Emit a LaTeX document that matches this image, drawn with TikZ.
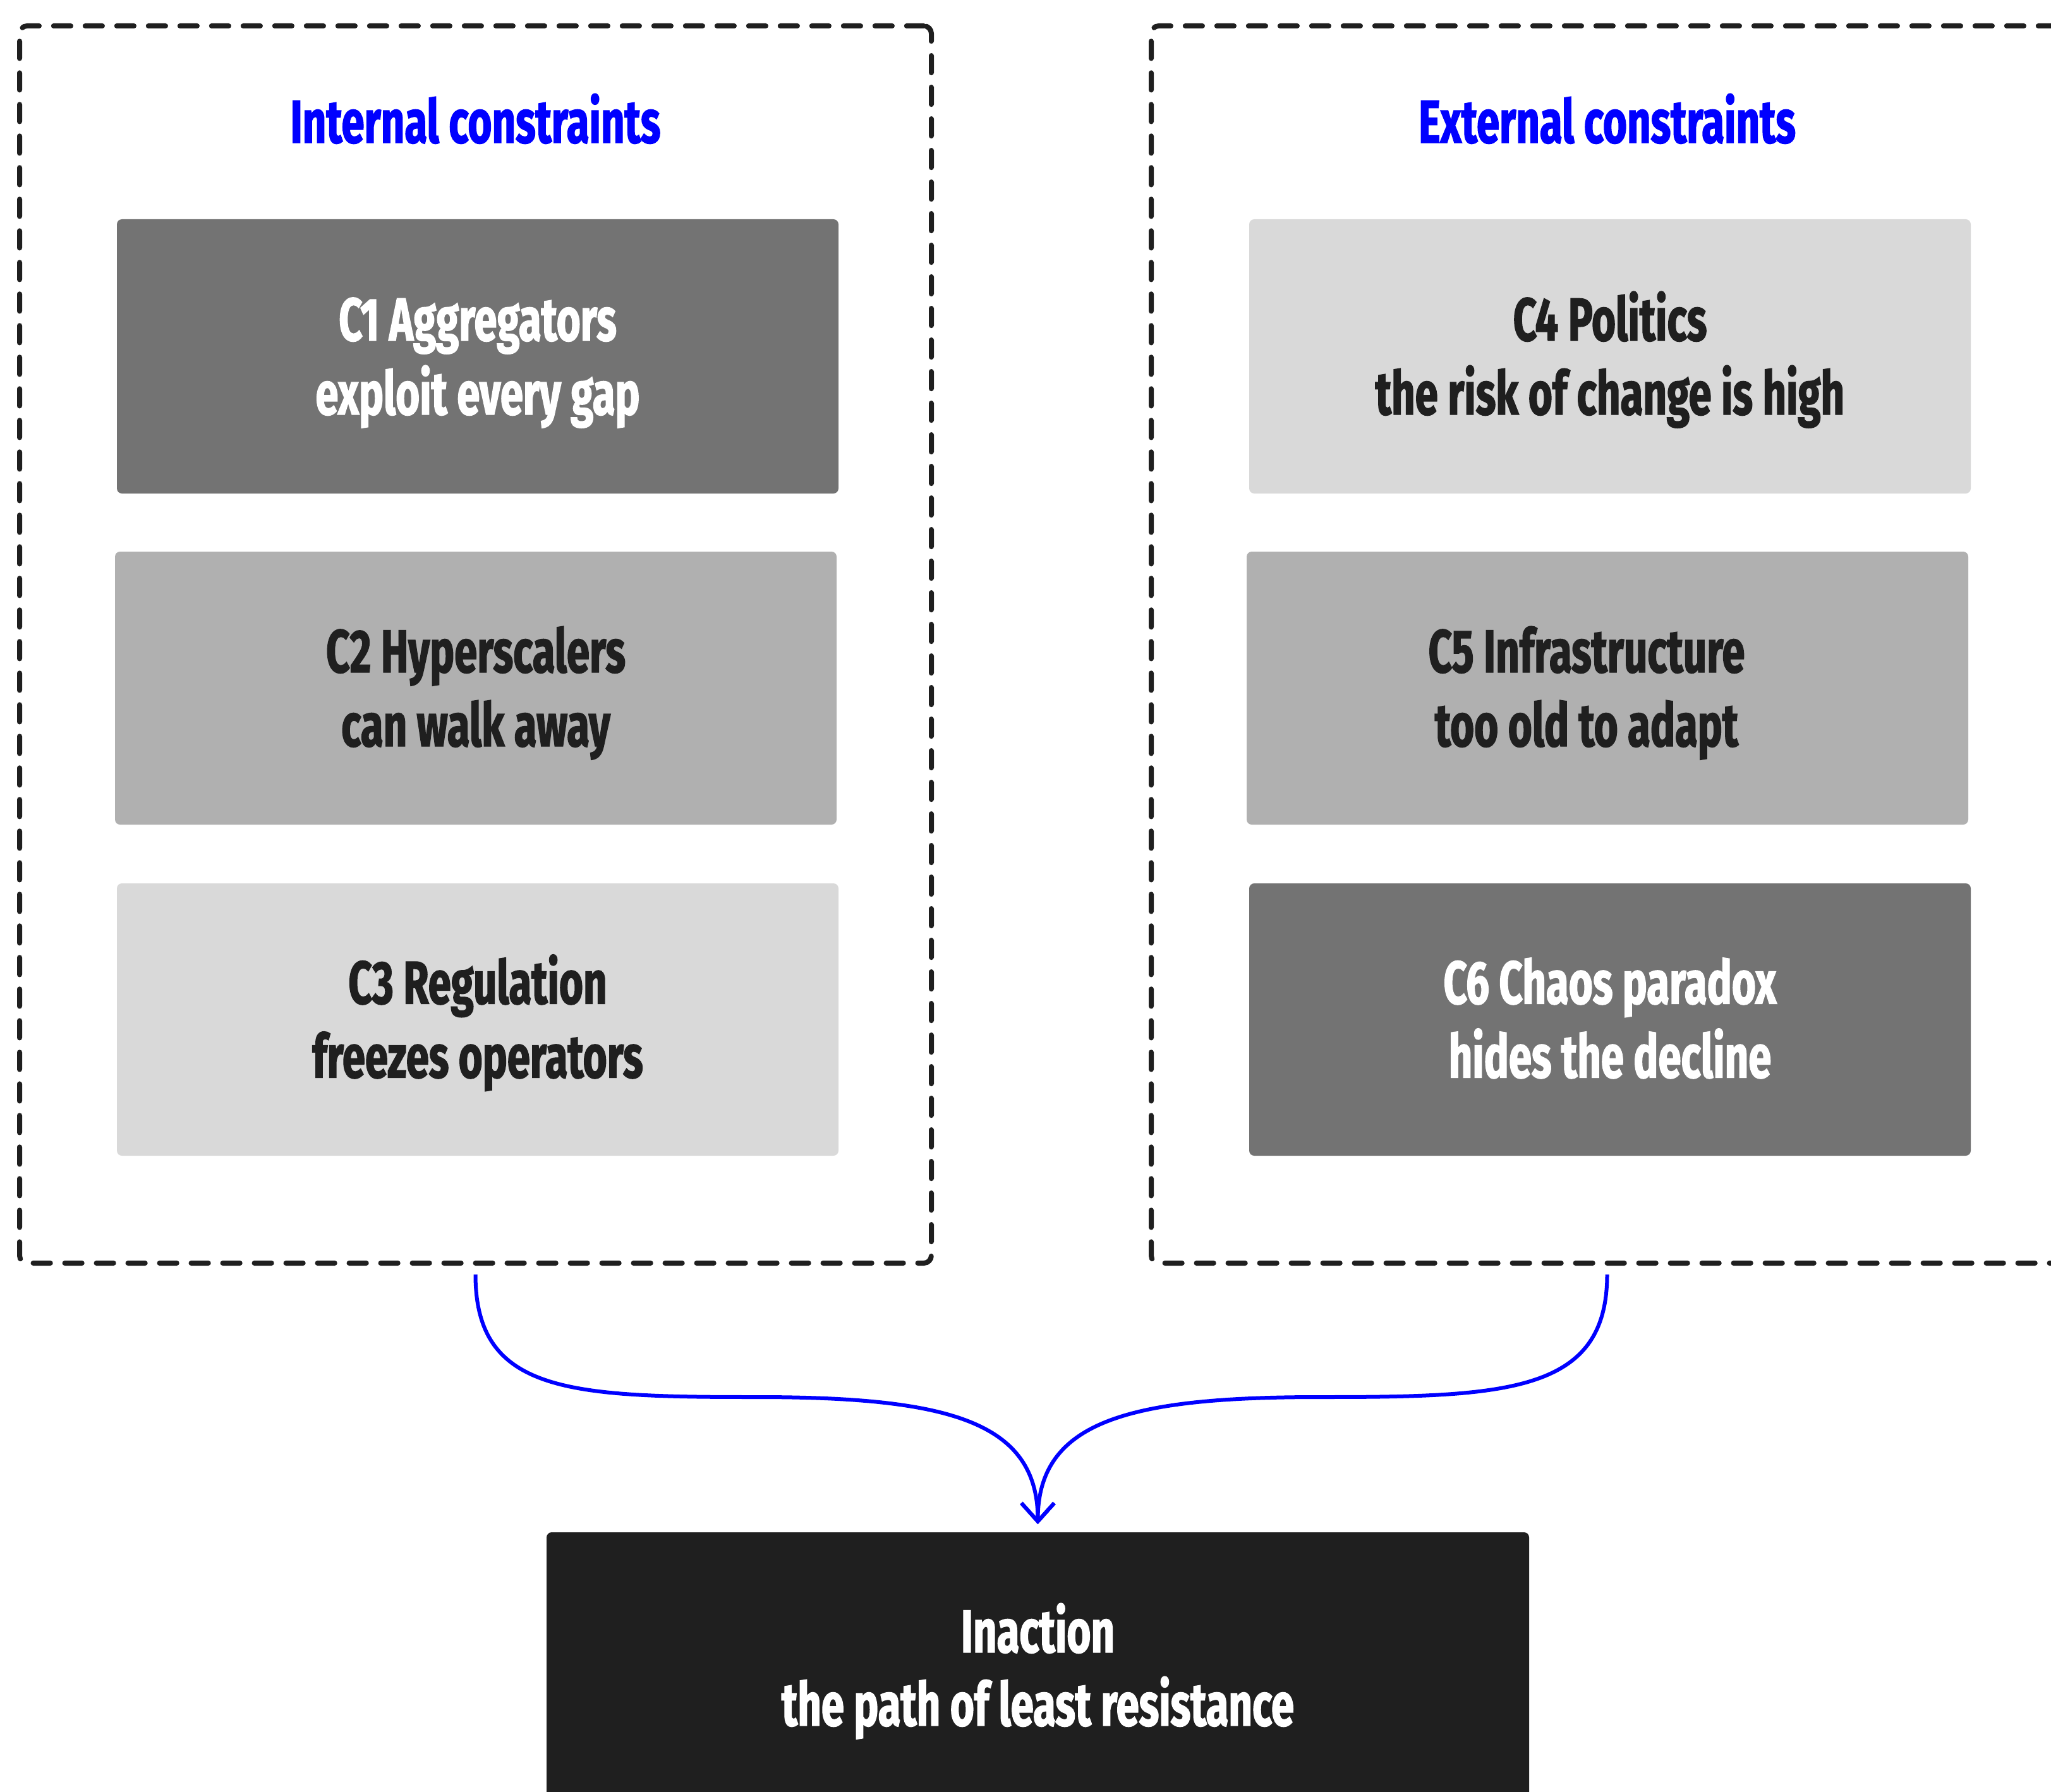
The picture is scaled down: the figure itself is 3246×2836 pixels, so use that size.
\documentclass[tikz,border=0pt]{standalone}
\usepackage{fontspec}
\newfontfamily\anton{Fira Sans}[FakeStretch=0.68,FakeBold=1.5]
\usetikzlibrary{arrows.meta,fit,calc}
\definecolor{gdark}{HTML}{737373}
\definecolor{gmid}{HTML}{B0B0B0}
\definecolor{glight}{HTML}{D9D9D9}
\definecolor{ink}{HTML}{1F1F1F}
\definecolor{accent}{HTML}{0000FF}
\begin{document}
\begin{tikzpicture}[x=0.25pt,y=-0.25pt,
  container/.style={draw=ink, line width=2pt, line cap=round, dash pattern=on 6.8pt off 5.7pt, rounded corners=3pt, inner sep=0pt},
  cbox/.style={rounded corners=2pt, inner sep=0pt, draw=none},
  txt/.style={font=\anton\bfseries\fontsize{24}{29}\selectfont, anchor=base, inner sep=0pt},
  flow/.style={draw=accent, line width=1.5pt, -{Straight Barb[length=7.25pt,width=13pt]}}]
\useasboundingbox (0,0) rectangle (3246,2836);
\fill[white] (0,0) rectangle (3246,2836);
\clip (0,0) rectangle (3246,2836);
% containers
\node[container, fit={(31,41)(1474,1999)}] (L) {};
\node[container, fit={(1822,41)(3265,1999)}] (R) {};
\node[txt, text=accent] (tL) at ($(L.north)+(0,189)$) {Internal constraints};
\node[txt, text=accent] (tR) at ($(R.north)+(0,189)$) {External constraints};
% left boxes
\node[cbox, fill=gdark, fit={(185,347)(1327,781)}] (c1) {};
\node[txt, text=white] (c1a) at ($(c1.center)+(0,-25)$) {C1 Aggregators};
\node[txt, text=white] (c1b) at ($(c1.center)+(0,92)$) {exploit every gap};
\node[cbox, fill=gmid, fit={(182,873)(1324,1305)}] (c2) {};
\node[txt, text=ink] (c2a) at ($(c2.center)+(0,-25)$) {C2 Hyperscalers};
\node[txt, text=ink] (c2b) at ($(c2.center)+(0,92)$) {can walk away};
\node[cbox, fill=glight, fit={(185,1398)(1327,1829)}] (c3) {};
\node[txt, text=ink] (c3a) at ($(c3.center)+(0,-25)$) {C3 Regulation};
\node[txt, text=ink] (c3b) at ($(c3.center)+(0,92)$) {freezes operators};
% right boxes
\node[cbox, fill=glight, fit={(1977,347)(3119,781)}] (c4) {};
\node[txt, text=ink] (c4a) at ($(c4.center)+(0,-25)$) {C4 Politics};
\node[txt, text=ink] (c4b) at ($(c4.center)+(0,92)$) {the risk of change is high};
\node[cbox, fill=gmid, fit={(1973,873)(3115,1305)}] (c5) {};
\node[txt, text=ink] (c5a) at ($(c5.center)+(-33,-25)$) {C5 Infrastructure};
\node[txt, text=ink] (c5b) at ($(c5.center)+(-33,92)$) {too old to adapt};
\node[cbox, fill=gdark, fit={(1977,1398)(3119,1829)}] (c6) {};
\node[txt, text=white] (c6a) at ($(c6.center)+(0,-25)$) {C6 Chaos paradox};
\node[txt, text=white] (c6b) at ($(c6.center)+(0,92)$) {hides the decline};
% result
\node[cbox, fill=ink, fit={(865,2425)(2420,2857)}] (inac) {};
\node[txt, text=white] (ia) at ($(inac.center)+(0,-26)$) {Inaction};
\node[txt, text=white] (ib) at ($(inac.center)+(0,90)$) {the path of least resistance};
% connectors
\coordinate (lm) at (1198,2211);
\coordinate (rm) at (2088,2211);
\draw[flow] ($(L.south)+(0,14)$) .. controls +(0,187) and +(-298,0) .. (lm)
  .. controls +(302,0) and +(0,-163) .. ($(inac.north)+(0,-12)$);
\draw[flow] ($(R.south)+(0,14)$) .. controls +(0,187) and +(298,0) .. (rm)
  .. controls +(-302,0) and +(0,-163) .. ($(inac.north)+(0,-12)$);
\end{tikzpicture}
\end{document}
